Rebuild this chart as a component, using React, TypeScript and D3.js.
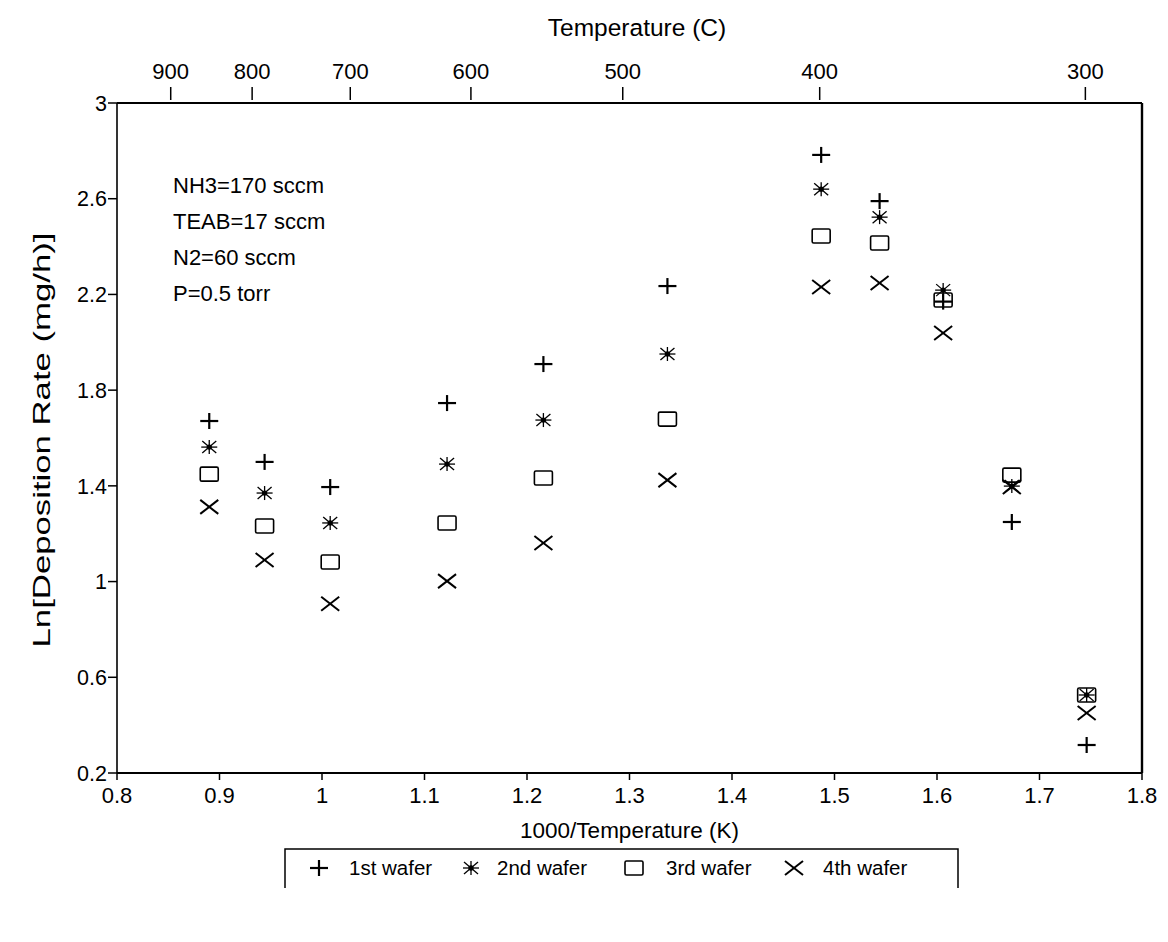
import React from "react";
import * as d3 from "d3";

const invTemp = [0.89, 0.944, 1.008, 1.122, 1.216, 1.337, 1.487, 1.544, 1.606, 1.673, 1.746];
const wafer1 = [1.671, 1.5, 1.395, 1.746, 1.909, 2.235, 2.783, 2.59, 2.17, 1.249, 0.317];
const wafer2 = [1.562, 1.37, 1.245, 1.491, 1.675, 1.951, 2.64, 2.523, 2.218, 1.399, 0.526];
const wafer3 = [1.449, 1.232, 1.082, 1.245, 1.433, 1.679, 2.444, 2.415, 2.177, 1.445, 0.526];
const wafer4 = [1.312, 1.09, 0.907, 1.002, 1.161, 1.424, 2.231, 2.248, 2.039, 1.395, 0.451];
const seriesNames = ["1st wafer", "2nd wafer", "3rd wafer", "4th wafer"];
const xTicks = [0.8, 0.9, 1.0, 1.1, 1.2, 1.3, 1.4, 1.5, 1.6, 1.7, 1.8];
const yTicks = [0.2, 0.6, 1.0, 1.4, 1.8, 2.2, 2.6, 3.0];
const topTicksC = [900, 800, 700, 600, 500, 400, 300];
const notes = ["NH3=170 sccm", "TEAB=17 sccm", "N2=60 sccm", "P=0.5 torr"];

const FONT = "'Liberation Sans', Arial, Helvetica, sans-serif";

function Marker({ kind, x, y }: { kind: number; x: number; y: number }) {
  const s = 8;
  if (kind === 0)
    return (
      <g stroke="#000" strokeWidth={2.2}>
        <line x1={x - s - 1} x2={x + s + 1} y1={y} y2={y} />
        <line x1={x} x2={x} y1={y - s} y2={y + s} />
      </g>
    );
  if (kind === 1)
    return (
      <g stroke="#000" strokeWidth={1.3}>
        <line x1={x - s} x2={x + s} y1={y} y2={y} />
        <line x1={x} x2={x} y1={y - 7} y2={y + 7} />
        <line x1={x - 7} x2={x + 7} y1={y - 6} y2={y + 6} />
        <line x1={x - 7} x2={x + 7} y1={y + 6} y2={y - 6} />
        <circle cx={x} cy={y} r={2} fill="#000" />
      </g>
    );
  if (kind === 2)
    return <rect x={x - 9} y={y - 7} width={18} height={14} rx={1.5} fill="none" stroke="#000" strokeWidth={1.6} />;
  return (
    <g stroke="#000" strokeWidth={2}>
      <line x1={x - 9} x2={x + 9} y1={y - 7} y2={y + 7} />
      <line x1={x - 9} x2={x + 9} y1={y + 7} y2={y - 7} />
    </g>
  );
}

export default function App() {
  const L = 117, R = 1142, T = 103, B = 773;
  const x = d3.scaleLinear().domain([0.8, 1.8]).range([L, R]);
  const y = d3.scaleLinear().domain([0.2, 3.0]).range([B, T]);
  const series = [wafer1, wafer2, wafer3, wafer4];
  const fmt = (v: number) => (Math.abs(v - Math.round(v)) < 1e-9 ? String(Math.round(v)) : v.toFixed(1));
  const legendItems = [
    { mx: 319, tx: 349 },
    { mx: 471, tx: 497 },
    { mx: 634, tx: 666 },
    { mx: 794, tx: 823 },
  ];
  return (
    <svg width={1168} height={942} style={{ position: "absolute", left: 0, top: 0, background: "#fff" }} fontFamily={FONT}>
      <rect x={0} y={0} width={1168} height={942} fill="#fff" />
      {/* frame */}
      <line x1={L} x2={L} y1={T} y2={B} stroke="#000" strokeWidth={1.6} />
      <line x1={L} x2={R} y1={B} y2={B} stroke="#000" strokeWidth={2} />
      <line x1={L} x2={R} y1={T} y2={T} stroke="#000" strokeWidth={2.2} />
      <line x1={R} x2={R} y1={T} y2={B} stroke="#000" strokeWidth={2.4} />
      {/* left axis */}
      {yTicks.map((v) => (
        <g key={"y" + v}>
          <line x1={L - 9} x2={L} y1={y(v)} y2={y(v)} stroke="#000" strokeWidth={1.5} />
          <text x={L - 10} y={y(v)} dy="0.36em" textAnchor="end" fontSize={21.5}>
            {fmt(v)}
          </text>
        </g>
      ))}
      {/* bottom axis */}
      {xTicks.map((v) => (
        <g key={"x" + v}>
          <line x1={x(v)} x2={x(v)} y1={B} y2={B + 7} stroke="#000" strokeWidth={1.5} />
          <text x={x(v)} y={B + 30} textAnchor="middle" fontSize={22}>
            {fmt(v)}
          </text>
        </g>
      ))}
      {/* top axis */}
      {topTicksC.map((c) => {
        const px = x(1000 / (c + 273.15));
        return (
          <g key={"t" + c}>
            <line x1={px} x2={px} y1={T - 16} y2={T - 3} stroke="#000" strokeWidth={1.5} />
            <text x={px} y={T - 24} textAnchor="middle" fontSize={22}>
              {c}
            </text>
          </g>
        );
      })}
      <text x={637} y={36} textAnchor="middle" fontSize={24.5}>
        Temperature (C)
      </text>
      <text x={(L + R) / 2} y={838} textAnchor="middle" fontSize={22.5}>
        1000/Temperature (K)
      </text>
      <text
        transform={`translate(50,${440}) rotate(-90)`}
        textAnchor="middle"
        fontSize={24}
        textLength={415}
        lengthAdjust="spacingAndGlyphs"
      >
        Ln[Deposition Rate (mg/h)]
      </text>
      {/* notes */}
      {notes.map((n, i) => (
        <text key={n} x={173} y={193 + i * 36} fontSize={22}>
          {n}
        </text>
      ))}
      {/* data */}
      {series.map((s, k) =>
        s.map((v, i) => <Marker key={k + "-" + i} kind={k} x={x(invTemp[i])} y={y(v)} />)
      )}
      {/* legend */}
      <path d="M285,888 L285,849 L958,849 L958,888" fill="none" stroke="#000" strokeWidth={1.5} />
      {seriesNames.map((n, k) => (
        <g key={n}>
          <Marker kind={k} x={legendItems[k].mx} y={868} />
          <text x={legendItems[k].tx} y={875} fontSize={20.5}>
            {n}
          </text>
        </g>
      ))}
    </svg>
  );
}
